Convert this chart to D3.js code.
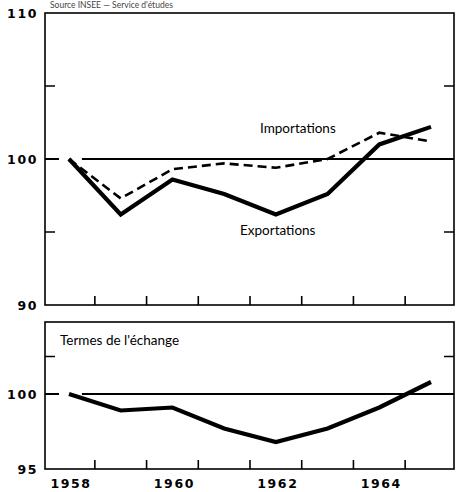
<!DOCTYPE html>
<html>
<head>
<meta charset="utf-8">
<script src="https://cdn.jsdelivr.net/npm/d3@7"></script>
<style>
  body { margin: 0; background: #fff; }
  svg { display: block; }
  .lbl { font-family: "DejaVu Sans", sans-serif; font-weight: bold; font-size: 12.5px; letter-spacing: 1.6px; fill: #000; }
  .note { font-family: Lato, "DejaVu Sans", sans-serif; font-size: 13.5px; fill: #000; }
</style>
</head>
<body>
<svg width="456" height="492"></svg>
<script>
var years = [1958, 1959, 1960, 1961, 1962, 1963, 1964, 1965];
var exportations = [100, 96.2, 98.6, 97.6, 96.2, 97.6, 101.0, 102.2];
var importations = [100, 97.3, 99.3, 99.7, 99.4, 100.0, 101.8, 101.2];
var termes = [100, 98.9, 99.1, 97.7, 96.8, 97.7, 99.1, 100.8];
var yearLabels = [1958, 1960, 1962, 1964];
var topTicks = [110, 100, 90];
var bottomTicks = [100, 95];

var svg = d3.select("svg");

var x = d3.scaleLinear().domain([1958, 1965]).range([69, 431]);
var left = 45, right = 454;

var yTop = d3.scaleLinear().domain([90, 110]).range([305, 13]);
var yBot = d3.scaleLinear().domain([95, 104.8]).range([469, 322]);

// header (mostly cut off at the top of the scan)
svg.append("text").attr("class", "note")
    .attr("x", 50).attr("y", 8).style("font-size", "8.5px").style("fill", "#444")
    .text("Source INSEE — Service d'études");

function panel(y, y0, y1, inTicks, labels) {
  var g = svg.append("g");
  g.append("rect")
      .attr("x", left).attr("y", y(y1))
      .attr("width", right - left).attr("height", y(y0) - y(y1))
      .attr("fill", "none").attr("stroke", "#000").attr("stroke-width", 1.6);
  // ticks on the bottom, at year boundaries
  d3.range(1958.5, 1965, 1).forEach(function (t) {
    g.append("line")
        .attr("x1", x(t)).attr("x2", x(t))
        .attr("y1", y(y0)).attr("y2", y(y0) - 9)
        .attr("stroke", "#000").attr("stroke-width", 1.6);
  });
  inTicks.forEach(function (v) {
    g.append("line").attr("x1", left).attr("x2", left + 10)
        .attr("y1", y(v)).attr("y2", y(v)).attr("stroke", "#000").attr("stroke-width", 1.5);
    g.append("line").attr("x1", right).attr("x2", right - 10)
        .attr("y1", y(v)).attr("y2", y(v)).attr("stroke", "#000").attr("stroke-width", 1.5);
  });
  // 100 reference line
  g.append("line").attr("x1", left).attr("x2", left + 14)
      .attr("y1", y(100)).attr("y2", y(100)).attr("stroke", "#000").attr("stroke-width", 2);
  g.append("line").attr("x1", x(1958.25)).attr("x2", right)
      .attr("y1", y(100)).attr("y2", y(100)).attr("stroke", "#000").attr("stroke-width", 2);
  labels.forEach(function (v) {
    g.append("text").attr("class", "lbl")
        .attr("x", 38).attr("y", y(v) + 5)
        .attr("text-anchor", "end").text(v);
  });
  return g;
}

var gTop = panel(yTop, 90, 110, [105, 95], topTicks);
var gBot = panel(yBot, 95, 104.8, [102.5], bottomTicks);

var lineTop = d3.line()
    .x(function (d, i) { return x(years[i]); })
    .y(function (d) { return yTop(d); });
var lineBot = d3.line()
    .x(function (d, i) { return x(years[i]); })
    .y(function (d) { return yBot(d); });

gTop.append("path").datum(importations)
    .attr("d", lineTop).attr("fill", "none")
    .attr("stroke", "#000").attr("stroke-width", 2.6)
    .attr("stroke-dasharray", "9,5");
gTop.append("path").datum(exportations)
    .attr("d", lineTop).attr("fill", "none")
    .attr("stroke", "#000").attr("stroke-width", 4.2);

gTop.append("text").attr("class", "note")
    .attr("x", 260).attr("y", 133).text("Importations");
gTop.append("text").attr("class", "note")
    .attr("x", 240).attr("y", 235).text("Exportations");

gBot.append("path").datum(termes)
    .attr("d", lineBot).attr("fill", "none")
    .attr("stroke", "#000").attr("stroke-width", 4.2);
gBot.append("text").attr("class", "note")
    .attr("x", 60).attr("y", 345).text("Termes de l'échange");

svg.selectAll(".yr").data(yearLabels).enter().append("text")
    .attr("class", "lbl")
    .attr("x", function (d) { return x(d) + 2; })
    .attr("y", 488)
    .attr("text-anchor", "middle")
    .text(function (d) { return d; });
</script>
</body>
</html>
